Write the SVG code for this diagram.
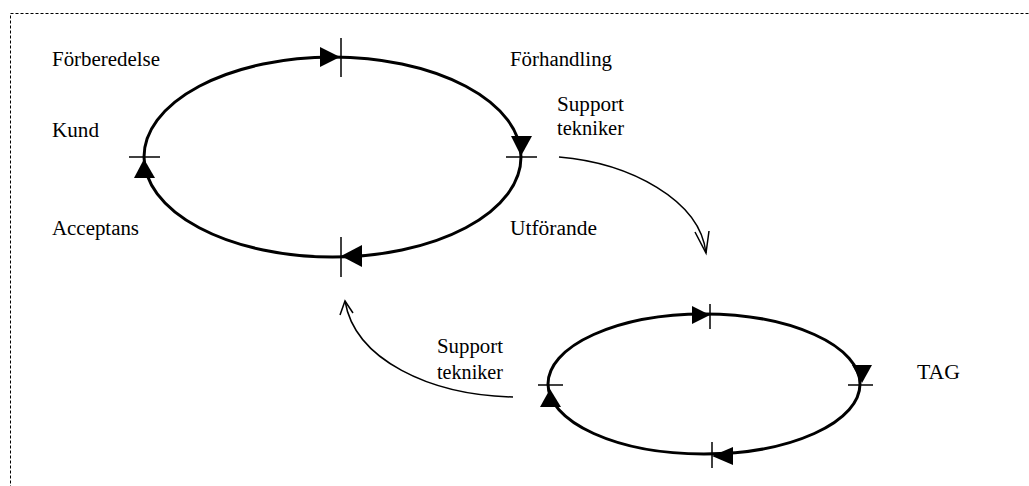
<svg xmlns="http://www.w3.org/2000/svg" width="1029" height="486" viewBox="0 0 1029 486">
<defs>
<style>
.lbl{font-family:"Liberation Serif","Times New Roman",serif;font-size:20px;fill:#000}
.cyc{fill:none;stroke:#000;stroke-width:3}
.tick{stroke:#000;stroke-width:1.5}
.head{fill:#000;stroke:none}
.flow{fill:none;stroke:#000;stroke-width:1.5}
</style>
</defs>
<rect width="1029" height="486" fill="#fff"/>
<rect x="10.5" y="13.5" width="1030" height="480" fill="none" stroke="#000" stroke-width="1" stroke-dasharray="3,2"/>

<g id="cycle-main">
<ellipse class="cyc" cx="332.5" cy="157" rx="188.5" ry="100"/>
<line class="tick" x1="341" y1="38" x2="341" y2="77"/>
<line class="tick" x1="506" y1="157" x2="537" y2="157"/>
<line class="tick" x1="341" y1="237" x2="341" y2="277"/>
<line class="tick" x1="129" y1="157" x2="160" y2="157"/>
<polygon class="head" points="320,47 340,57 320,67"/>
<polygon class="head" points="511,136 532,136 521,156"/>
<polygon class="head" points="362,245 341,256 362,267"/>
<polygon class="head" points="134,178 144,159 155,178"/>
</g>

<g id="cycle-tag">
<ellipse class="cyc" cx="704" cy="384" rx="156" ry="70"/>
<line class="tick" x1="710" y1="304" x2="710" y2="329"/>
<line class="tick" x1="848" y1="385" x2="873" y2="385"/>
<line class="tick" x1="712" y1="442" x2="712" y2="468"/>
<line class="tick" x1="538" y1="385" x2="563" y2="385"/>
<polygon class="head" points="692,306 710,315 692,324"/>
<polygon class="head" points="852,365 872,365 862,383"/>
<polygon class="head" points="733,447 712,456 733,465"/>
<polygon class="head" points="540,407 550,389 561,407"/>
</g>

<g id="connectors">
<path class="flow" d="M559,157 C630,163 700,200 706,253"/>
<polyline class="flow" points="695,232 706,253 709,231"/>
<path class="flow" d="M513,397 C430,395 355,360 345,301"/>
<polyline class="flow" points="340,315 345,301 353,313"/>
</g>

<g id="labels">
<text class="lbl" x="52" y="66" textLength="108" lengthAdjust="spacingAndGlyphs">Förberedelse</text>
<text class="lbl" x="510" y="66" textLength="102" lengthAdjust="spacingAndGlyphs">Förhandling</text>
<text class="lbl" x="557" y="111" textLength="67" lengthAdjust="spacingAndGlyphs">Support</text>
<text class="lbl" x="557" y="135" textLength="67" lengthAdjust="spacingAndGlyphs">tekniker</text>
<text class="lbl" x="52" y="137" textLength="47" lengthAdjust="spacingAndGlyphs">Kund</text>
<text class="lbl" x="52" y="235" textLength="87" lengthAdjust="spacingAndGlyphs">Acceptans</text>
<text class="lbl" x="510" y="235" textLength="87" lengthAdjust="spacingAndGlyphs">Utförande</text>
<text class="lbl" x="437" y="353" textLength="66" lengthAdjust="spacingAndGlyphs">Support</text>
<text class="lbl" x="437" y="379" textLength="66" lengthAdjust="spacingAndGlyphs">tekniker</text>
<text class="lbl" x="917" y="379" textLength="43" lengthAdjust="spacingAndGlyphs">TAG</text>
</g>
</svg>
